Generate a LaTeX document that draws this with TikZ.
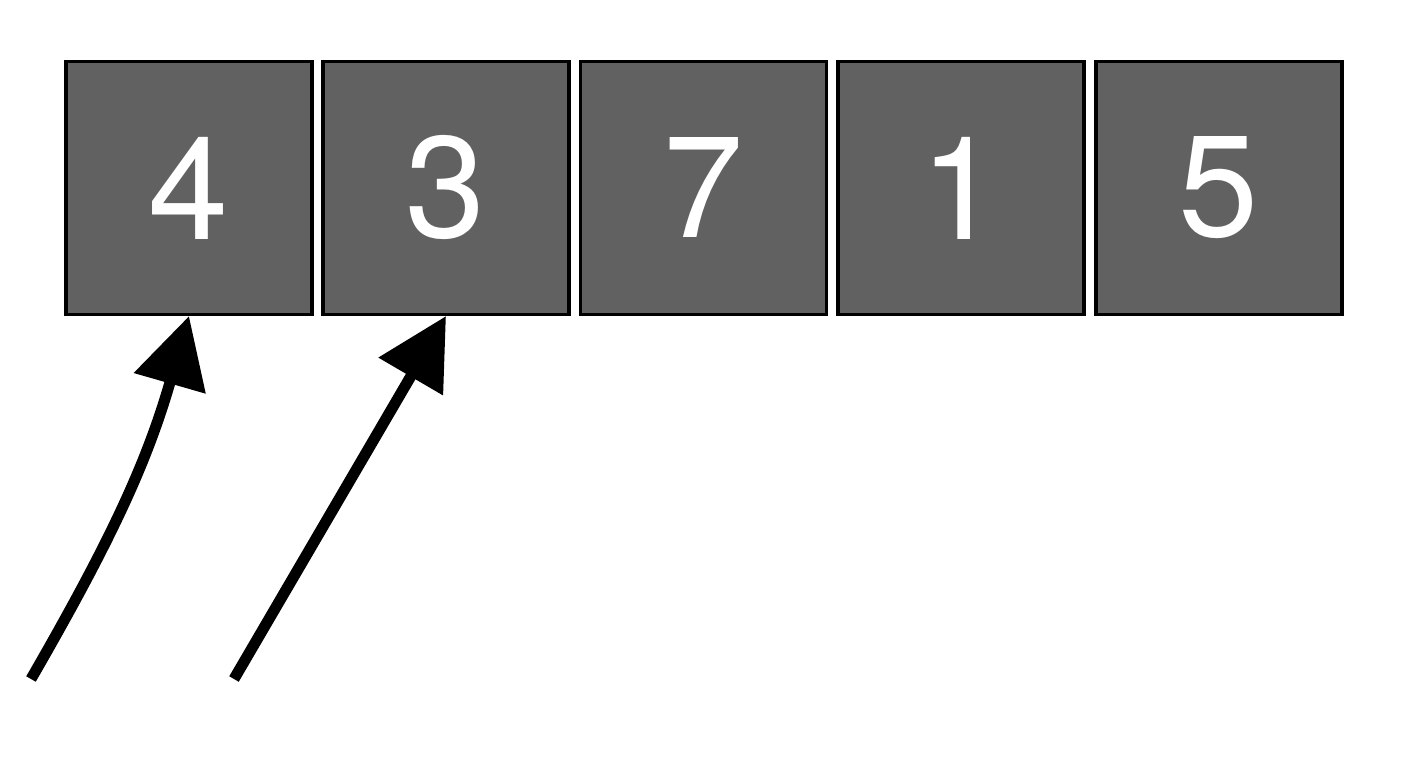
\documentclass[tikz,border=0pt]{standalone}
\usepackage{fontspec}
\setsansfont{TeX Gyre Heros}
\usetikzlibrary{arrows.meta}
\tikzset{>={Triangle[length=0.7cm,width=0.72cm]}}
\tikzset{cell/.style={draw=black,line width=0.9pt,fill=black!62,minimum width=2.46cm,minimum height=2.53cm,inner sep=0pt,text=white,font=\sffamily\fontsize{41}{41}\selectfont}}
\tikzset{pointer/.style={->,line width=0.11cm}}

\begin{document}
\begin{tikzpicture}
  \useasboundingbox (0,0) rectangle (14.08,7.68);
  \node[cell] (c1) at (1.89,5.80) {4};
  \node[cell] (c2) at (4.46,5.80) {3};
  \node[cell] (c3) at (7.035,5.80) {7};
  \node[cell] (c4) at (9.61,5.80) {1};
  \node[cell] (c5) at (12.19,5.80) {5};
  \coordinate (i) at (0.31,0.89);
  \coordinate (j) at (2.34,0.89);
  \draw[pointer] (i) to[out=60,in=-106] (c1.south);
  \draw[pointer] (j) -- (c2.south);
\end{tikzpicture}
\end{document}
